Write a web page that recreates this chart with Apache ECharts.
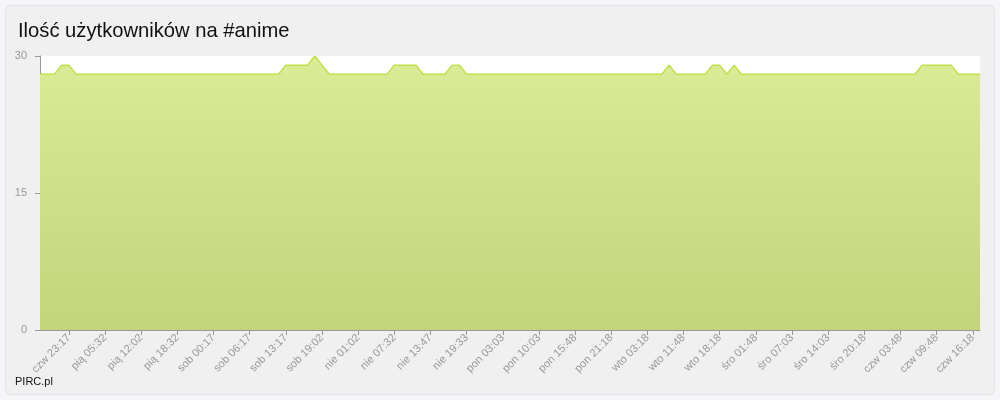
<!DOCTYPE html>
<html>
<head>
<meta charset="utf-8">
<script src="https://cdn.jsdelivr.net/npm/echarts@6/dist/echarts.min.js"></script>
<style>
html,body{margin:0;padding:0;background:#f6f6f8;}
#panel{position:absolute;left:5px;top:5px;width:988px;height:388px;background:#f0f0f0;border:1px solid #e3e3e7;border-radius:6px;}
#chart{position:absolute;left:0;top:0;width:1000px;height:400px;}
</style>
</head>
<body>
<div id="panel"></div>
<div id="chart"></div>
<script>
const titleText = 'Ilość użytkowników na #anime';
const footerText = 'PIRC.pl';
const tickLabels = ['czw 23:17','pią 05:32','pią 12:02','pią 18:32','sob 00:17','sob 06:17','sob 13:17','sob 19:02','nie 01:02','nie 07:32','nie 13:47','nie 19:33','pon 03:03','pon 10:03','pon 15:48','pon 21:18','wto 03:18','wto 11:48','wto 18:18','śro 01:48','śro 07:03','śro 14:03','śro 20:18','czw 03:48','czw 09:48','czw 16:18'];
const users = [
28,28,28,29,29,28,28,28,28,28,
28,28,28,28,28,28,28,28,28,28,
28,28,28,28,28,28,28,28,28,28,
28,28,28,28,29,29,29,29,30,29,
28,28,28,28,28,28,28,28,28,29,
29,29,29,28,28,28,28,29,29,28,
28,28,28,28,28,28,28,28,28,28,
28,28,28,28,28,28,28,28,28,28,
28,28,28,28,28,28,28,29,28,28,
28,28,28,29,29,28,29,28,28,28,
28,28,28,28,28,28,28,28,28,28,
28,28,28,28,28,28,28,28,28,28,
28,28,29,29,29,29,29,28,28,28,
28];
const yTicks = [0, 15, 30];
const labelOffset = 4, labelEvery = 5;

const categories = users.map((v, i) => {
  const k = (i - labelOffset) / labelEvery;
  return (i >= labelOffset && Number.isInteger(k) && k < tickLabels.length) ? tickLabels[k] : '';
});
const showAt = (i) => i >= labelOffset && (i - labelOffset) % labelEvery === 0;

const chart = echarts.init(document.getElementById('chart'));
chart.setOption({
  backgroundColor: 'transparent',
  animation: false,
  title: {
    text: titleText, left: 13, top: 16,
    textStyle: {fontSize: 20.2, fontWeight: 'normal', color: '#111', fontFamily: 'Liberation Sans, Arial, sans-serif'}
  },
  graphic: [{
    type: 'text', left: 15, top: 376,
    style: {text: footerText, fontSize: 11, fill: '#111', fontFamily: 'Liberation Sans, Arial, sans-serif'}
  }],
  grid: {left: 40, right: 20, top: 56, bottom: 70, show: true, backgroundColor: '#ffffff', borderWidth: 0},
  xAxis: {
    type: 'category', data: categories, boundaryGap: false,
    axisLine: {lineStyle: {color: '#999', width: 1}},
    axisTick: {show: true, interval: showAt, length: 5, lineStyle: {color: '#999'}},
    axisLabel: {interval: showAt, rotate: 45, margin: 6, fontSize: 11, color: '#999', fontFamily: 'Liberation Sans, Arial, sans-serif'},
    splitLine: {show: false}
  },
  yAxis: {
    type: 'value', min: yTicks[0], max: yTicks[yTicks.length - 1], interval: yTicks[1] - yTicks[0],
    axisLine: {show: true, lineStyle: {color: '#999', width: 1}},
    axisTick: {show: true, length: 5, lineStyle: {color: '#999'}},
    axisLabel: {margin: 13, fontSize: 11, color: '#999', fontFamily: 'Liberation Sans, Arial, sans-serif'},
    splitLine: {show: false}
  },
  series: [{
    type: 'line', data: users, symbol: 'none', smooth: false,
    lineStyle: {color: '#c3df4c', width: 1.5},
    areaStyle: {
      opacity: 1,
      color: new echarts.graphic.LinearGradient(0, 0, 0, 1, [
        {offset: 0, color: '#dbeb96'},
        {offset: 1, color: '#c3d47b'}
      ])
    }
  }]
});
</script>
</body>
</html>
